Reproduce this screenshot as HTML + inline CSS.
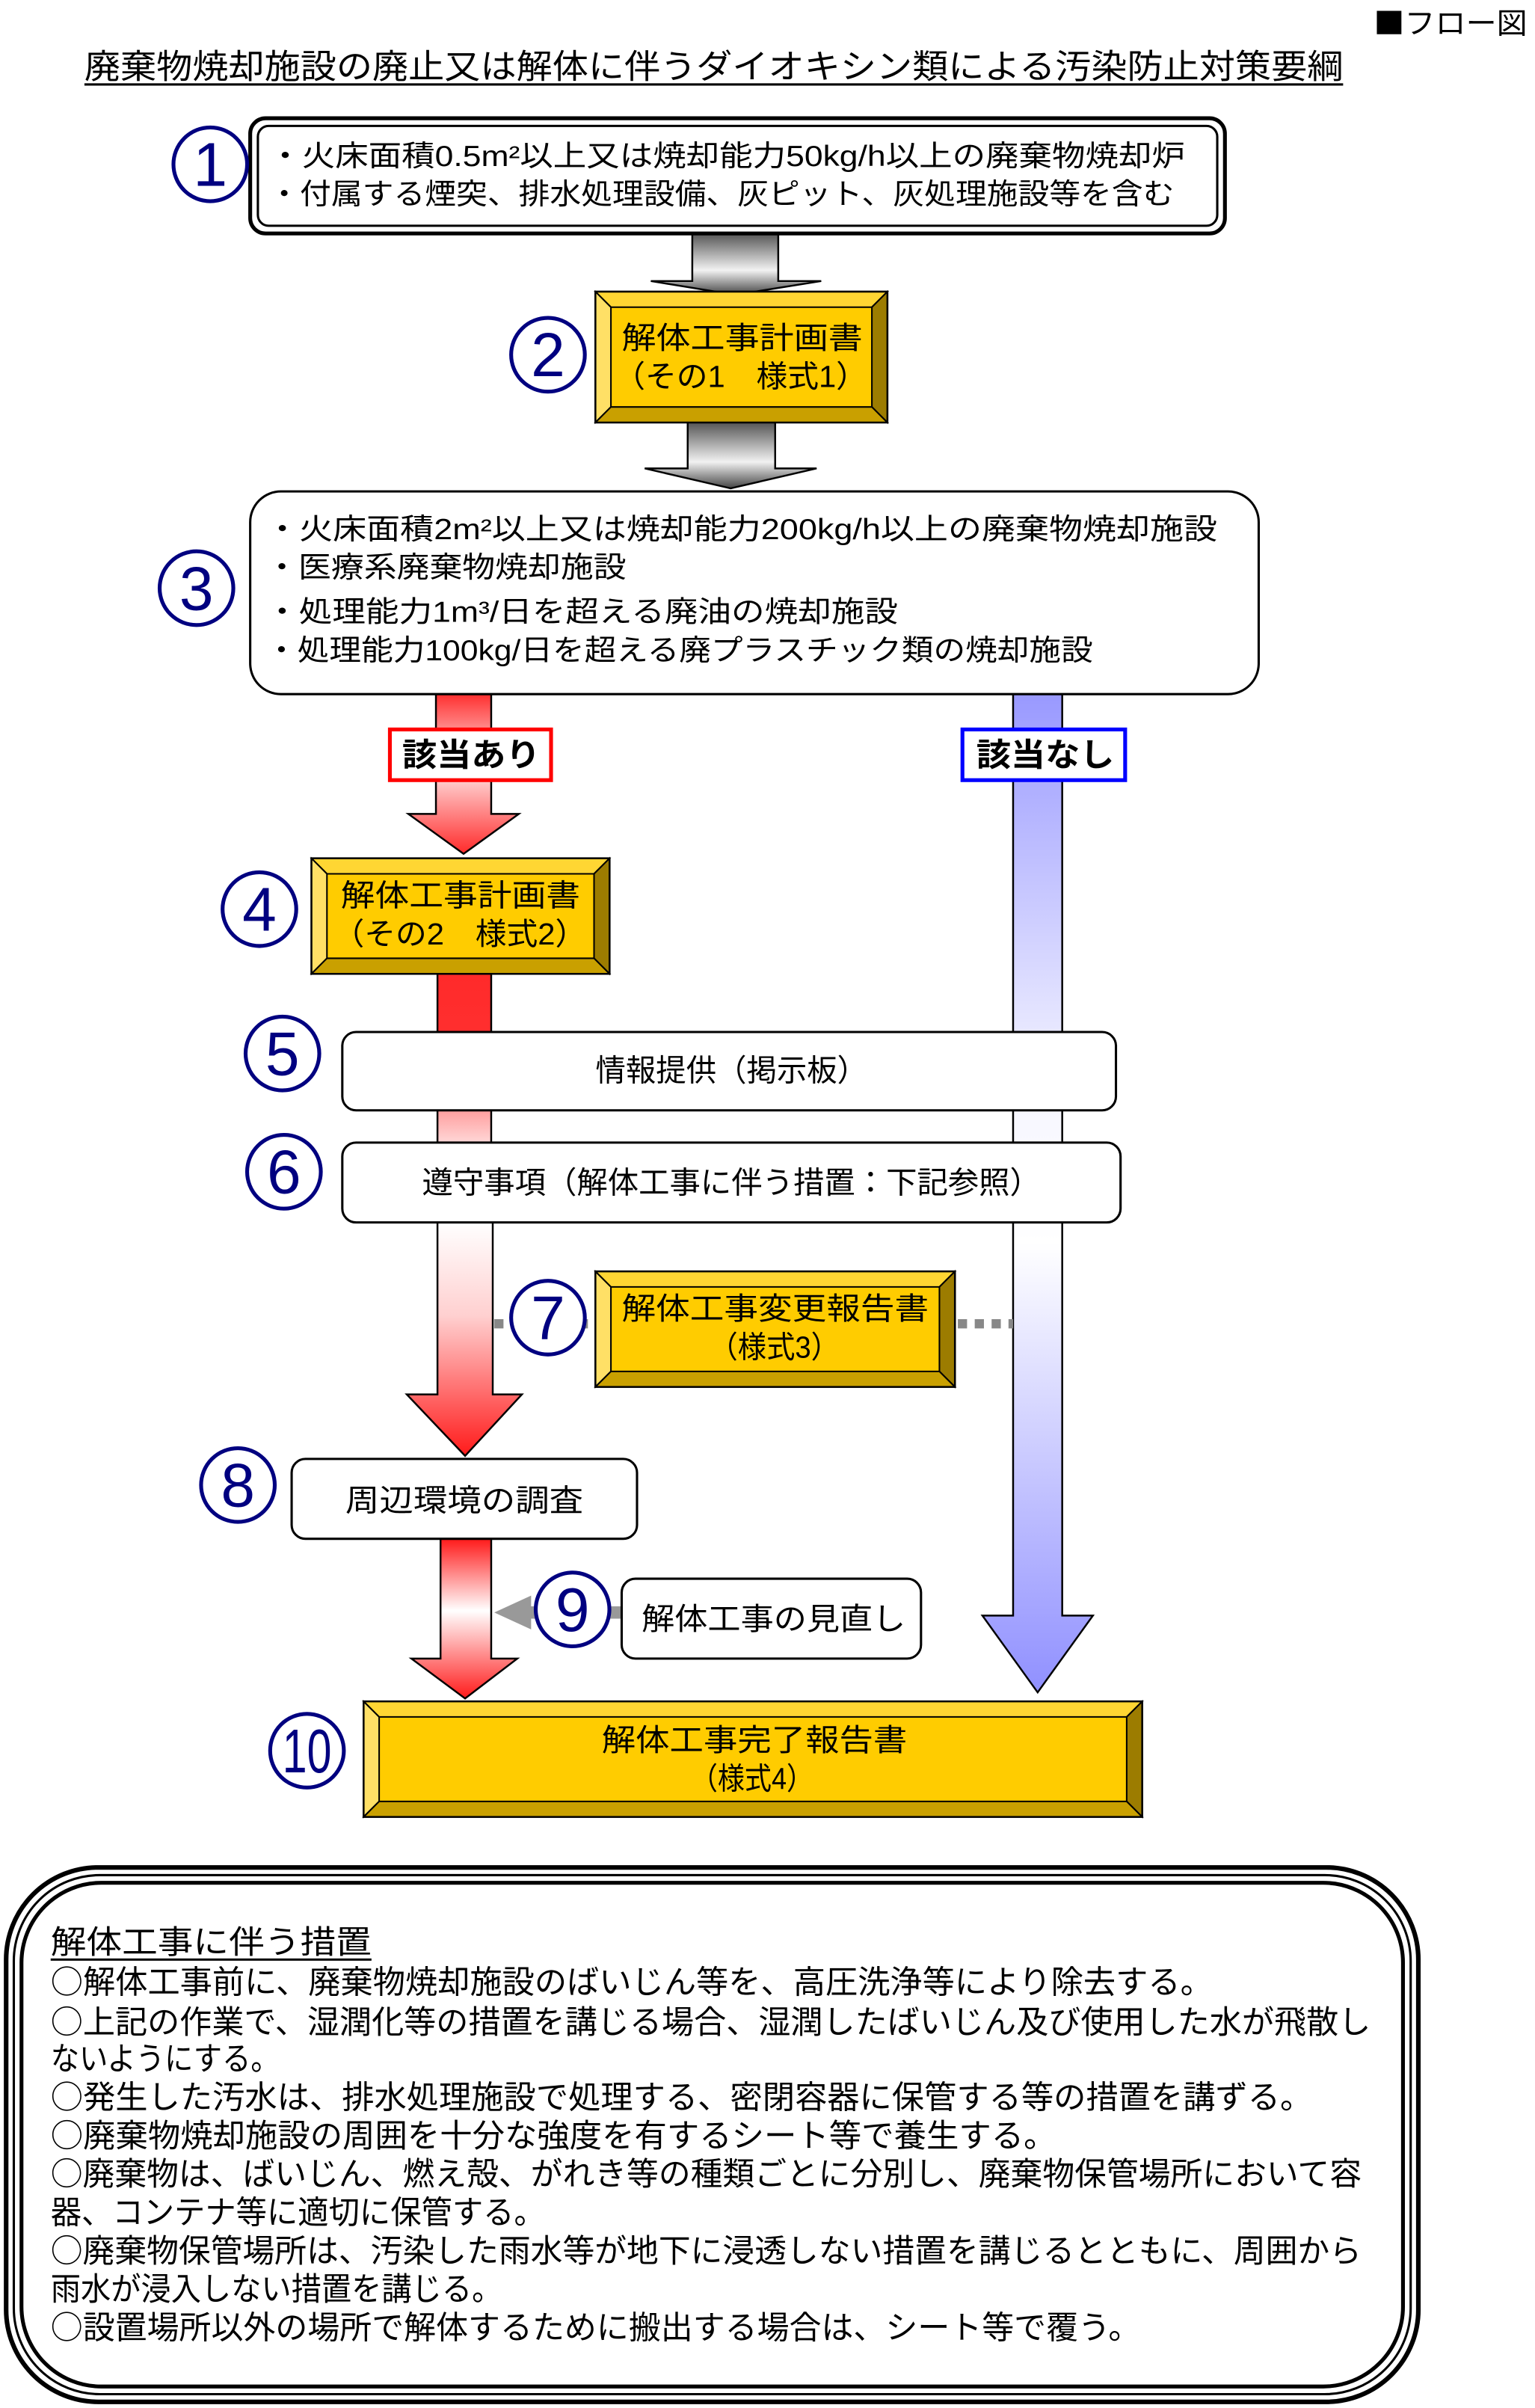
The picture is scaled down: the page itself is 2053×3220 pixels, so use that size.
<!DOCTYPE html>
<html><head><meta charset="utf-8"><style>
html,body{margin:0;padding:0;background:#fff;width:2053px;height:3220px;overflow:hidden}
svg{display:block}
text{font-family:"Liberation Sans","Noto Sans CJK JP",sans-serif;fill:#000}
.cjk{font-family:"Noto Sans CJK JP",sans-serif}
.c{stroke:#000080;stroke-width:2.5;fill:#fff}
.n{fill:#000080;font-size:40px;text-anchor:middle}
</style></head><body>
<svg width="2053" height="3220" viewBox="0 0 1000 1568" preserveAspectRatio="none" xmlns="http://www.w3.org/2000/svg">
<defs>
<linearGradient id="gA" gradientUnits="userSpaceOnUse" x1="0" y1="452" x2="0" y2="556"><stop offset="0" stop-color="#ff3030"/><stop offset="0.45" stop-color="#ffecec"/><stop offset="1" stop-color="#ff2a2a"/></linearGradient>
<linearGradient id="gS" gradientUnits="userSpaceOnUse" x1="0" y1="634" x2="0" y2="796"><stop offset="0" stop-color="#ff2a2a"/><stop offset="0.3" stop-color="#ff3030"/><stop offset="0.7" stop-color="#ffe0e0"/><stop offset="1" stop-color="#ffffff"/></linearGradient>
<linearGradient id="gB" gradientUnits="userSpaceOnUse" x1="0" y1="796" x2="0" y2="948"><stop offset="0" stop-color="#ffffff"/><stop offset="0.4" stop-color="#ffd0d0"/><stop offset="1" stop-color="#ff1a1a"/></linearGradient>
<linearGradient id="gC" gradientUnits="userSpaceOnUse" x1="0" y1="1002" x2="0" y2="1106"><stop offset="0" stop-color="#ff1a1a"/><stop offset="0.45" stop-color="#ffffff"/><stop offset="1" stop-color="#ff1a1a"/></linearGradient>
<linearGradient id="gBl" gradientUnits="userSpaceOnUse" x1="0" y1="452" x2="0" y2="1102"><stop offset="0" stop-color="#9999ff"/><stop offset="0.4" stop-color="#f6f6ff"/><stop offset="0.55" stop-color="#ffffff"/><stop offset="1" stop-color="#9090ff"/></linearGradient>
<linearGradient id="gG1" gradientUnits="userSpaceOnUse" x1="0" y1="152" x2="0" y2="192"><stop offset="0" stop-color="#555"/><stop offset="0.6" stop-color="#f2f2f2"/><stop offset="1" stop-color="#444"/></linearGradient>
<linearGradient id="gG2" gradientUnits="userSpaceOnUse" x1="0" y1="275" x2="0" y2="318"><stop offset="0" stop-color="#555"/><stop offset="0.6" stop-color="#f2f2f2"/><stop offset="1" stop-color="#444"/></linearGradient>
</defs>

<text x="895" y="22" font-size="19" textLength="100" lengthAdjust="spacingAndGlyphs"><tspan class="cjk">■</tspan>フロー図</text>
<text x="55" y="51" font-size="22" textLength="820" lengthAdjust="spacingAndGlyphs">廃棄物焼却施設の廃止又は解体に伴うダイオキシン類による汚染防止対策要綱</text>
<line x1="55" y1="55" x2="875" y2="55" stroke="#000" stroke-width="1.5"/>

<polygon points="451,152 507,152 507,183 535,183 479,192 424,183 451,183" fill="url(#gG1)" stroke="#000" stroke-width="1.2"/>
<polygon points="448,275 505,275 505,305 532,305 476,318 420,305 448,305" fill="url(#gG2)" stroke="#000" stroke-width="1.2"/>
<polygon points="660,452 692,452 692,1052 712,1052 676,1102 640,1052 660,1052" fill="url(#gBl)" stroke="#000" stroke-width="1.2"/>
<polygon points="284,452 320,452 320,530 338,530 302,556 266,530 284,530" fill="url(#gA)" stroke="#000" stroke-width="1.2"/>
<rect x="285" y="634" width="35" height="162" fill="url(#gS)" stroke="#000" stroke-width="1.2"/>
<polygon points="285,796 321,796 321,908 340,908 303,948 265,908 285,908" fill="url(#gB)" stroke="#000" stroke-width="1.2"/>
<polygon points="287,1002 320,1002 320,1080 337,1080 303,1106 268,1080 287,1080" fill="url(#gC)" stroke="#000" stroke-width="1.2"/>
<line x1="322" y1="862" x2="388" y2="862" stroke="#888" stroke-width="6" stroke-dasharray="6,5"/>
<line x1="624" y1="862" x2="660" y2="862" stroke="#888" stroke-width="6" stroke-dasharray="6,5"/>
<line x1="340" y1="1050" x2="405" y2="1050" stroke="#999" stroke-width="8"/>
<polygon points="322,1050 346,1039 346,1061" fill="#999"/>

<rect x="163" y="77" width="635" height="75" rx="10" fill="#fff" stroke="#000" stroke-width="2.5"/>
<rect x="168" y="82" width="625" height="65" rx="7" fill="none" stroke="#000" stroke-width="1.5"/>
<text x="175" y="108" font-size="19" textLength="597" lengthAdjust="spacingAndGlyphs">・火床面積0.5m²以上又は焼却能力50kg/h以上の廃棄物焼却炉</text>
<text x="175" y="133" font-size="19" textLength="590" lengthAdjust="spacingAndGlyphs">・付属する煙突、排水処理設備、灰ピット、灰処理施設等を含む</text>
<circle class="c" cx="137" cy="107" r="24"/><text class="n" x="137" y="121">1</text>

<g>
<rect x="388" y="190" width="190" height="85" fill="#ffcc00" stroke="#000" stroke-width="1.5"/>
<polygon points="388,190 578,190 568,200 398,200" fill="#ffd633" stroke="#000" stroke-width="1"/>
<polygon points="388,190 398,200 398,265 388,275" fill="#ffe066" stroke="#000" stroke-width="1"/>
<polygon points="578,190 568,200 568,265 578,275" fill="#9c7c00" stroke="#000" stroke-width="1"/>
<polygon points="388,275 398,265 568,265 578,275" fill="#c9a000" stroke="#000" stroke-width="1"/>
</g>
<text x="405" y="227" font-size="20" textLength="157" lengthAdjust="spacingAndGlyphs">解体工事計画書</text>
<text x="400" y="252" font-size="20" textLength="165" lengthAdjust="spacingAndGlyphs">（その1　様式1）</text>
<circle class="c" cx="357" cy="231" r="24"/><text class="n" x="357" y="245">2</text>

<rect x="163" y="320" width="657" height="132" rx="20" fill="#fff" stroke="#000" stroke-width="1.5"/>
<text x="173" y="351" font-size="19" textLength="620" lengthAdjust="spacingAndGlyphs">・火床面積2m²以上又は焼却能力200kg/h以上の廃棄物焼却施設</text>
<text x="173" y="376" font-size="19" textLength="235" lengthAdjust="spacingAndGlyphs">・医療系廃棄物焼却施設</text>
<text x="173" y="405" font-size="19" textLength="412" lengthAdjust="spacingAndGlyphs">・処理能力1m³/日を超える廃油の焼却施設</text>
<text x="173" y="430" font-size="19" textLength="539" lengthAdjust="spacingAndGlyphs">・処理能力100kg/日を超える廃プラスチック類の焼却施設</text>
<circle class="c" cx="128" cy="383" r="24"/><text class="n" x="128" y="397">3</text>

<rect x="254" y="475" width="105" height="33" fill="#fff" stroke="#ff0000" stroke-width="2.5"/>
<text x="262" y="499" font-size="21" font-weight="bold" textLength="90" lengthAdjust="spacingAndGlyphs">該当あり</text>
<rect x="627" y="475" width="106" height="33" fill="#fff" stroke="#0000ff" stroke-width="2.5"/>
<text x="636" y="499" font-size="21" font-weight="bold" textLength="90" lengthAdjust="spacingAndGlyphs">該当なし</text>

<g>
<rect x="203" y="559" width="194" height="75" fill="#ffcc00" stroke="#000" stroke-width="1.5"/>
<polygon points="203,559 397,559 387,569 213,569" fill="#ffd633" stroke="#000" stroke-width="1"/>
<polygon points="203,559 213,569 213,624 203,634" fill="#ffe066" stroke="#000" stroke-width="1"/>
<polygon points="397,559 387,569 387,624 397,634" fill="#9c7c00" stroke="#000" stroke-width="1"/>
<polygon points="203,634 213,624 387,624 397,634" fill="#c9a000" stroke="#000" stroke-width="1"/>
</g>
<text x="222" y="590" font-size="20" textLength="156" lengthAdjust="spacingAndGlyphs">解体工事計画書</text>
<text x="217" y="615" font-size="20" textLength="165" lengthAdjust="spacingAndGlyphs">（その2　様式2）</text>
<circle class="c" cx="169" cy="592" r="24"/><text class="n" x="169" y="606">4</text>

<rect x="223" y="672" width="504" height="51" rx="9" fill="#fff" stroke="#000" stroke-width="1.5"/>
<text x="388" y="704" font-size="20" textLength="177" lengthAdjust="spacingAndGlyphs">情報提供（掲示板）</text>
<circle class="c" cx="184" cy="686" r="24"/><text class="n" x="184" y="700">5</text>
<rect x="223" y="744" width="507" height="52" rx="9" fill="#fff" stroke="#000" stroke-width="1.5"/>
<text x="275" y="777" font-size="20" textLength="403" lengthAdjust="spacingAndGlyphs">遵守事項（解体工事に伴う措置：下記参照）</text>
<circle class="c" cx="185" cy="763" r="24"/><text class="n" x="185" y="777">6</text>

<g>
<rect x="388" y="828" width="234" height="75" fill="#ffcc00" stroke="#000" stroke-width="1.5"/>
<polygon points="388,828 622,828 612,838 398,838" fill="#ffd633" stroke="#000" stroke-width="1"/>
<polygon points="388,828 398,838 398,893 388,903" fill="#ffe066" stroke="#000" stroke-width="1"/>
<polygon points="622,828 612,838 612,893 622,903" fill="#9c7c00" stroke="#000" stroke-width="1"/>
<polygon points="388,903 398,893 612,893 622,903" fill="#c9a000" stroke="#000" stroke-width="1"/>
</g>
<text x="405" y="859" font-size="20" textLength="200" lengthAdjust="spacingAndGlyphs">解体工事変更報告書</text>
<text x="462" y="884" font-size="20" textLength="85" lengthAdjust="spacingAndGlyphs">（様式3）</text>
<circle class="c" cx="357" cy="858" r="24"/><text class="n" x="357" y="872">7</text>

<rect x="190" y="950" width="225" height="52" rx="9" fill="#fff" stroke="#000" stroke-width="1.5"/>
<text x="225" y="984" font-size="20" textLength="155" lengthAdjust="spacingAndGlyphs">周辺環境の調査</text>
<circle class="c" cx="155" cy="967" r="24"/><text class="n" x="155" y="981">8</text>

<rect x="405" y="1028" width="195" height="52" rx="9" fill="#fff" stroke="#000" stroke-width="1.5"/>
<text x="418" y="1061" font-size="20" textLength="172" lengthAdjust="spacingAndGlyphs">解体工事の見直し</text>
<circle class="c" cx="373" cy="1048" r="24"/><text class="n" x="373" y="1062">9</text>

<g>
<rect x="237" y="1108" width="507" height="75" fill="#ffcc00" stroke="#000" stroke-width="1.5"/>
<polygon points="237,1108 744,1108 734,1118 247,1118" fill="#ffd633" stroke="#000" stroke-width="1"/>
<polygon points="237,1108 247,1118 247,1173 237,1183" fill="#ffe066" stroke="#000" stroke-width="1"/>
<polygon points="744,1108 734,1118 734,1173 744,1183" fill="#9c7c00" stroke="#000" stroke-width="1"/>
<polygon points="237,1183 247,1173 734,1173 744,1183" fill="#c9a000" stroke="#000" stroke-width="1"/>
</g>
<text x="392" y="1140" font-size="20" textLength="199" lengthAdjust="spacingAndGlyphs">解体工事完了報告書</text>
<text x="450" y="1165" font-size="20" textLength="80" lengthAdjust="spacingAndGlyphs">（様式4）</text>
<circle class="c" cx="200" cy="1140" r="24"/><text class="n" x="200" y="1154" font-size="34" textLength="32" lengthAdjust="spacingAndGlyphs">10</text>

<rect x="4" y="1216" width="920" height="348" rx="60" fill="#fff" stroke="#000" stroke-width="3"/>
<rect x="9" y="1221" width="910" height="338" rx="56" fill="none" stroke="#000" stroke-width="1.5"/>
<rect x="14" y="1226" width="900" height="328" rx="52" fill="none" stroke="#000" stroke-width="2.5"/>
<g font-size="21">
<text x="33" y="1272" textLength="209" lengthAdjust="spacingAndGlyphs">解体工事に伴う措置</text>
<text x="33" y="1298" textLength="757" lengthAdjust="spacingAndGlyphs"><tspan class="cjk">○</tspan>解体工事前に、廃棄物焼却施設のばいじん等を、高圧洗浄等により除去する。</text>
<text x="33" y="1324" textLength="860" lengthAdjust="spacingAndGlyphs"><tspan class="cjk">○</tspan>上記の作業で、湿潤化等の措置を講じる場合、湿潤したばいじん及び使用した水が飛散し</text>
<text x="33" y="1348" textLength="149" lengthAdjust="spacingAndGlyphs">ないようにする。</text>
<text x="33" y="1373" textLength="822" lengthAdjust="spacingAndGlyphs"><tspan class="cjk">○</tspan>発生した汚水は、排水処理施設で処理する、密閉容器に保管する等の措置を講ずる。</text>
<text x="33" y="1398" textLength="655" lengthAdjust="spacingAndGlyphs"><tspan class="cjk">○</tspan>廃棄物焼却施設の周囲を十分な強度を有するシート等で養生する。</text>
<text x="33" y="1423" textLength="854" lengthAdjust="spacingAndGlyphs"><tspan class="cjk">○</tspan>廃棄物は、ばいじん、燃え殻、がれき等の種類ごとに分別し、廃棄物保管場所において容</text>
<text x="33" y="1448" textLength="322" lengthAdjust="spacingAndGlyphs">器、コンテナ等に適切に保管する。</text>
<text x="33" y="1473" textLength="854" lengthAdjust="spacingAndGlyphs"><tspan class="cjk">○</tspan>廃棄物保管場所は、汚染した雨水等が地下に浸透しない措置を講じるとともに、周囲から</text>
<text x="33" y="1498" textLength="294" lengthAdjust="spacingAndGlyphs">雨水が浸入しない措置を講じる。</text>
<text x="33" y="1523" textLength="710" lengthAdjust="spacingAndGlyphs"><tspan class="cjk">○</tspan>設置場所以外の場所で解体するために搬出する場合は、シート等で覆う。</text>
</g>
<line x1="33" y1="1276" x2="242" y2="1276" stroke="#000" stroke-width="1.5"/>
</svg>
</body></html>
